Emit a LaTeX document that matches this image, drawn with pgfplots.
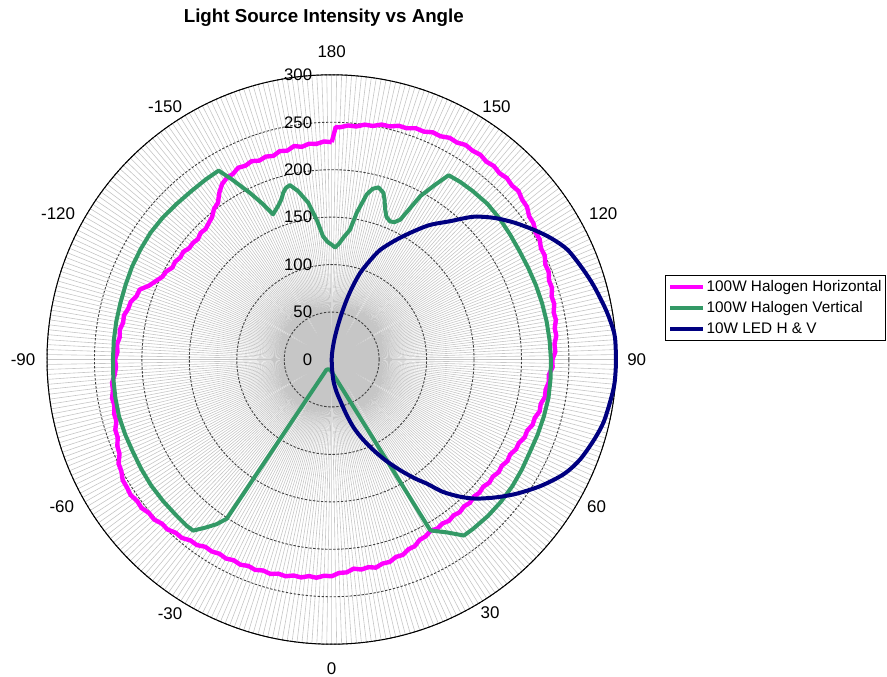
\documentclass[border=0pt]{standalone}
\usepackage{fontspec}
\setmainfont{Liberation Sans}
\usepackage{pgfplots}
\pgfplotsset{compat=1.18}
\usepackage{pgfplotstable}
\usepgfplotslibrary{polar}
\definecolor{hh}{RGB}{255,0,255}
\definecolor{hv}{RGB}{51,153,102}
\definecolor{led}{RGB}{0,0,128}

\pgfplotstableread{
a r
-180 229
-178 229.9
-176 227.8
-174 228.6
-172 226.3
-170 228.4
-168 225.0
-166 226.3
-164 223.2
-162 224.8
-160 223.0
-158 225.4
-156 223.5
-154 224.8
-152 221.5
-150 221.0
-148 218.0
-146 211.8
-144 204.0
-142 201.4
-140 196.0
-138 193.6
-136 191.2
-134 192.0
-132 189.6
-130 191.0
-128 190.5
-126 193.2
-124 192.4
-122 194.5
-120 193.8
-118 197.5
-116 198.6
-114 203.0
-112 207.6
-110 215.4
-108 216.2
-106 220.3
-104 221.0
-102 223.8
-100 223.2
-98 225.5
-96 224.6
-94 226.8
-92 225.9
-90 228.3
-88 227.4
-86 229.2
-84 232.7
-82 232.8
-80 235.0
-78 234.0
-76 236.3
-74 236.0
-72 239.8
-70 240.0
-68 243.6
-66 244.7
-64 249.9
-62 251.0
-60 254.3
-58 254.4
-56 255.5
-54 253.5
-52 254.2
-50 251.5
-48 251.9
-46 248.9
-44 249.0
-42 245.7
-40 245.5
-38 241.9
-36 241.7
-34 238.1
-32 238.5
-30 236.4
-28 237.5
-26 235.4
-24 236.7
-22 234.6
-20 235.9
-18 233.8
-16 235.0
-14 232.6
-12 233.5
-10 231.1
-8 231.9
-6 229.5
-4 230.5
-2 228.0
0 228.4
2 225.0
4 224.9
6 221.6
8 223.5
10 222.2
12 224.2
14 221.6
16 221.9
18 218.8
20 219.1
22 215.7
24 215.3
26 211.5
28 211.0
30 208.4
32 210.1
34 208.5
36 210.2
38 208.5
40 210.0
42 208.3
44 209.8
46 208.1
48 209.6
50 208.5
52 210.8
54 209.9
56 212.3
58 211.4
60 213.9
62 213.0
64 216.0
66 216.0
68 219.3
70 219.2
72 222.6
74 222.7
76 225.8
78 225.2
80 228.1
82 227.7
84 230.0
86 229.4
88 232.9
90 232.6
92 235.8
94 235.3
96 238.0
98 237.3
100 239.9
102 239.1
104 241.7
106 241.1
108 244.1
110 243.7
112 246.6
114 246.4
116 249.8
118 249.7
120 253.1
122 253.2
124 256.5
126 257.1
128 261.2
130 262.0
132 265.0
134 264.0
136 265.7
138 264.2
140 266.0
142 264.6
144 266.6
146 265.4
148 266.5
150 264.0
152 264.6
154 261.7
156 262.0
158 259.0
160 259.3
162 256.2
164 256.2
166 253.1
168 253.1
170 249.9
172 249.9
174 246.9
176 247.2
178 244.8
179 245
180 229
}\hhdata

\pgfplotstableread{
a r
-180 121
-178 124
-176 130
-174 147
-171.5 167
-168.7 181
-166.5 189
-165 187
-163.8 183
-162.6 177
-161 172
-158 165
-156 180
-153.8 196
-151 217
-149.1 232
-145 231.5
-140 231
-135 231.5
-130 232.5
-125 233
-120 232.5
-115 232
-110 231
-105 230.5
-100 230.5
-95 230.5
-90 230.5
-85 231
-80 231.5
-75 232
-70 231.5
-65 231
-60 231.5
-55 232
-50 232
-45 232
-41 232.5
-39 232
-37 222
-35 212
-33.4 201
-27 12
-20 11
-10 11
0 13
30 208
33.7 219
36.9 232
40 232.5
45 233
50 233
55 232.5
60 231.5
65 230.5
70 231
75 231.5
80 232
85 231.5
90 231
95 230.5
100 230
105 229.5
110 229
115 228.5
120 228.5
125 229.5
130 231
135 232
140 231.5
144 231
147.6 230
149.5 213
151.5 196
153.9 164
155.5 159
157.1 158
159 161
160.4 168
161.8 178
162.8 184
164.8 188
166.5 185
168 178
170.3 157
172 138
174.5 129
176.5 122
178.3 118
180 121
}\hvdata

\pgfplotstableread{
a r
0 0
2 9
4.5 22
8 33
11.6 44
15 60
17.8 75
21 89
24.7 105
28 120
31.7 137
35 153
37.5 165
40 182
43.1 198
46 211
50 226
54.1 241
59 258
63.8 273
68 282
72.9 289
77 294
81.7 297
85 299
88.5 299.5
92 299.5
95.3 299
100 294
105.6 287
110 281
115 274
119 264
122.7 253
127 240
131.1 227
135.2 212
139.4 192
144 175
148.2 157
152 142
156.2 126
159 111
161.8 96
164 80
165.9 65
168 48
170.4 32
172.5 21
175 11
177.5 4
180 0
}\leddata

\begin{document}
\begin{tikzpicture}
\useasboundingbox (0,0) rectangle (443.5bp,338.5bp);
\node[font=\fontsize{9.4}{11}\selectfont\bfseries] at (161.9bp,329.85bp) {Light Source Intensity vs Angle};
\begin{polaraxis}[
  at={(165.85bp,158.75bp)}, anchor=center,
  scale only axis, width=284.7bp, height=284.7bp,
  xmin=0, xmax=360, ymin=0, ymax=300,
  xtick={0,30,...,360}, minor x tick num=29,
  ytick={50,100,...,300},
  xticklabel=\empty, yticklabel=\empty,
  grid=both,
  every major x grid/.style={gray!45, line width=0.3bp, solid},
  every minor x grid/.style={gray!45, line width=0.3bp, solid},
  every major y grid/.style={black!75, dash pattern=on 1.2bp off 0.8bp, line width=0.45bp},
  x axis line style={black, line width=0.5bp},
  y axis line style={draw=none},
  tick style={draw=none},
  clip=false,
  legend style={at={(1.0853,0.6484)}, anchor=north west, draw=black, line width=0.5bp, fill=white,
    font=\fontsize{7.7}{9}\selectfont, inner xsep=1.3bp, inner ysep=1.3bp, row sep=1.5bp,
    nodes={inner xsep=0.8bp, inner ysep=1bp}},
  legend cell align=left,
  legend image code/.code={\draw[#1, line width=2bp] (0bp,0bp) -- (16.5bp,0bp);},
]
\addplot[hh, line width=2.2bp, line join=round] table[x expr=\thisrow{a}-90, y=r] {\hhdata};
\addlegendentry{100W Halogen Horizontal}
\addplot[hv, line width=2bp, line join=round] table[x expr=\thisrow{a}-90, y=r] {\hvdata};
\addlegendentry{100W Halogen Vertical}
\addplot[led, line width=2bp, line join=round, smooth, tension=0.5] table[x expr=\thisrow{a}-90, y=r] {\leddata};
\addlegendentry{10W LED H \& V}
% angular labels
\begin{scope}[every node/.style={font=\fontsize{8.5}{10}\selectfont, inner sep=0pt}]
\node at (axis cs:90,324.6) {180};
\node at (axis cs:56.9,318) {150};
\node at (axis cs:28.3,325) {120};
\node at (axis cs:0,321.4) {90};
\node at (axis cs:-29.1,319.5) {60};
\node at (axis cs:-58,315) {30};
\node at (axis cs:-90,325.4) {0};
\node at (axis cs:-122.5,317) {-30};
\node at (axis cs:-151.4,324) {-60};
\node at (axis cs:-180,325.3) {-90};
\node at (axis cs:-208.1,326.8) {-120};
\node at (axis cs:-236.6,319) {-150};
\end{scope}
\begin{scope}[every node/.style={font=\fontsize{8.4}{10}\selectfont, inner sep=0pt, anchor=east, xshift=-9.6bp}]
\node at (axis cs:90,0) {0};
\node at (axis cs:90,50) {50};
\node at (axis cs:90,100) {100};
\node at (axis cs:90,150) {150};
\node at (axis cs:90,200) {200};
\node at (axis cs:90,250) {250};
\node at (axis cs:90,300) {300};
\end{scope}
\end{polaraxis}
\end{tikzpicture}
\end{document}
